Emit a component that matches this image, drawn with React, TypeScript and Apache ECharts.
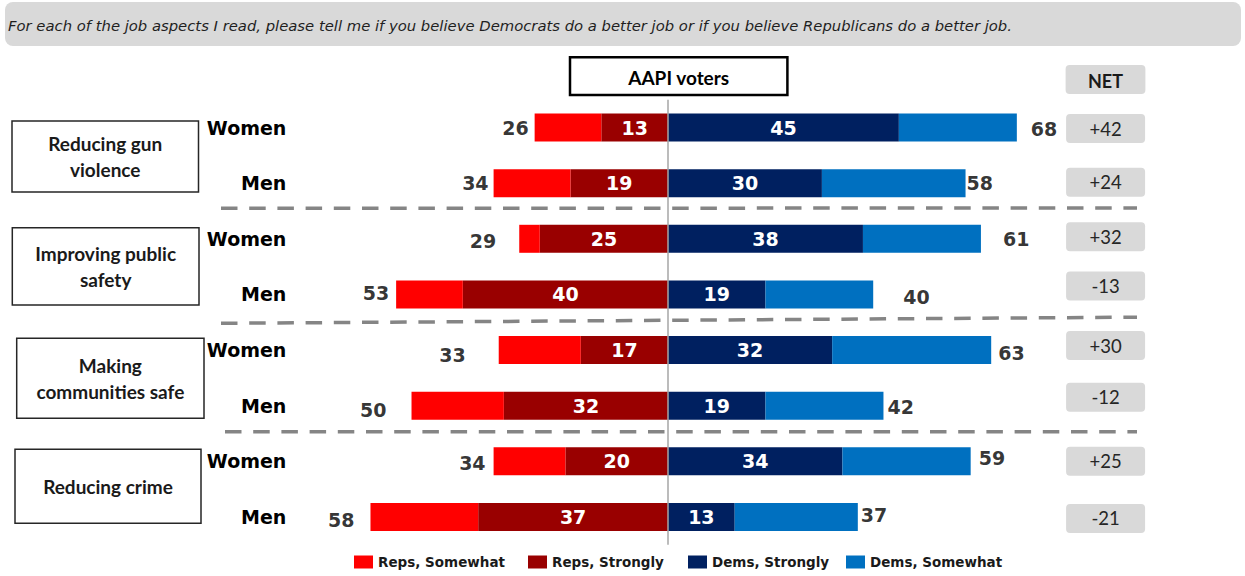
import React, { useEffect, useRef } from "react";
import * as echarts from "echarts";

// ---- data ----
const groupTitles = ["Reducing gun\nviolence", "Improving public\nsafety", "Making\ncommunities safe", "Reducing crime"];
const rowLabels = ["Women", "Men", "Women", "Men", "Women", "Men", "Women", "Men"];
const repsSomewhat = [13, 15, 4, 13, 16, 18, 14, 21];
const repsStrongly = [13, 19, 25, 40, 17, 32, 20, 37];
const demsStrongly = [45, 30, 38, 19, 32, 19, 34, 13];
const demsSomewhat = [23, 28, 23, 21, 31, 23, 25, 24];
const repsTotal = [26, 34, 29, 53, 33, 50, 34, 58];
const demsTotal = [68, 58, 61, 40, 63, 42, 59, 37];
const netValues = ["+42", "+24", "+32", "-13", "+30", "-12", "+25", "-21"];
const seriesNames = ["Reps, Somewhat", "Reps, Strongly", "Dems, Strongly", "Dems, Somewhat"];
const titleText =
  "For each of the job aspects I read, please tell me if you believe Democrats do a better job or if you believe Republicans do a better job.";
const panelTitle = "AAPI voters";
const netTitle = "NET";

// ---- layout (not data) ----
const repLabelShift = [[-6, 0], [-5, 0], [-23, 2], [-7, -1], [-33, 5], [-25, 4], [-8, 2], [-16, 3]];
const demLabelShift = [[14, 1.5], [1, 0], [22, 0], [30, 3], [7, 3], [4, 1], [8, -3], [3, -2]];
const netShiftY = [1, -1, -2, -8.5, -4.5, -8.5, 0, 1.5];
const NET_X = 85.3;
const groupBoxes = [
  { x: 12, y: 121, w: 186.5, h: 71 },
  { x: 12.3, y: 227.7, w: 186.7, h: 77.3 },
  { x: 16.7, y: 338.3, w: 187.3, h: 80 },
  { x: 15, y: 449.3, w: 186, h: 74 },
];
const dashLines = [
  [221, 208.3, 1137, 208],
  [221, 323.3, 1137, 317.2],
  [225, 431.7, 1137, 431.7],
];
const NET_SYMBOL = "path://M4,0H75A4,4 0 0 1 79,4V25A4,4 0 0 1 75,29H4A4,4 0 0 1 0,25V4A4,4 0 0 1 4,0Z";

const colors = {
  repSome: "#FF0000",
  repStrong: "#990000",
  demStrong: "#002060",
  demSome: "#0070C0",
};

const NUM_FONT = "DejaVu Sans";
const BOX_FONT = "Lato";

export default function App() {
  const ref = useRef<HTMLDivElement>(null);
  useEffect(() => {
    if (!ref.current) return;
    const chart = echarts.init(ref.current, undefined, { renderer: "svg" });
    const catIds = rowLabels.map((r, i) => `${r}#${i}`);
    const numLabel = {
      fontFamily: NUM_FONT,
      fontWeight: "bold" as const,
      fontSize: 19,
    };
    const legendLefts = [354, 528, 688, 846];
    const legends = seriesNames.map((n, i) => ({
      data: [n],
      left: legendLefts[i],
      top: 555,
      padding: 0,
      icon: "rect",
      itemWidth: 19,
      itemHeight: 13,
      selectedMode: false,
      textStyle: { fontFamily: NUM_FONT, fontWeight: "bold", fontSize: 13.5, color: "#1a1a1a" },
    }));

    const graphics: any[] = [];
    graphics.push({
      type: "rect",
      shape: { x: 5, y: 2, width: 1236, height: 44, r: 8 },
      style: { fill: "#d9d9d9" },
      silent: true,
    });
    graphics.push({
      type: "text",
      x: 8,
      y: 25,
      style: {
        text: titleText,
        font: `italic 14.8px ${NUM_FONT}`,
        fill: "#1f1f1f",
        align: "left",
        verticalAlign: "middle",
      },
      silent: true,
    });
    graphics.push({
      type: "rect",
      shape: { x: 570, y: 57.3, width: 217.4, height: 37.7 },
      style: { fill: "#fff", stroke: "#000", lineWidth: 2.5 },
      silent: true,
    });
    graphics.push({
      type: "text",
      x: 678.7,
      y: 77,
      style: { text: panelTitle, font: `bold 19px ${BOX_FONT}`, fill: "#000", align: "center", verticalAlign: "middle" },
      silent: true,
    });
    graphics.push({
      type: "rect",
      shape: { x: 1065.6, y: 65, width: 79.8, height: 29, r: 4 },
      style: { fill: "#d9d9d9" },
      silent: true,
    });
    graphics.push({
      type: "text",
      x: 1105.5,
      y: 80.5,
      style: { text: netTitle, font: `bold 18px ${BOX_FONT}`, fill: "#1a1a1a", align: "center", verticalAlign: "middle" },
      silent: true,
    });
    groupBoxes.forEach((b, i) => {
      graphics.push({
        type: "rect",
        shape: { x: b.x, y: b.y, width: b.w, height: b.h },
        style: { fill: "#fff", stroke: "#262626", lineWidth: 1.5 },
        silent: true,
      });
      graphics.push({
        type: "text",
        x: b.x + b.w / 2,
        y: b.y + b.h / 2,
        style: {
          text: groupTitles[i],
          font: `bold 19px ${BOX_FONT}`,
          lineHeight: 26,
          fill: "#1a1a1a",
          align: "center",
          verticalAlign: "middle",
        },
        silent: true,
      });
    });
    dashLines.forEach((l) => {
      graphics.push({
        type: "line",
        shape: { x1: l[0], y1: l[1], x2: l[2], y2: l[3] },
        style: { stroke: "#858585", lineWidth: 3.5, lineDash: [16.5, 11.7] },
        silent: true,
      });
    });

    chart.setOption({
      animation: false,
      legend: legends,
      grid: { left: 288.4, right: 64, top: 99.7, height: 445.1, containLabel: false },
      xAxis: { type: "value", min: -74, max: 100, show: false },
      yAxis: {
        type: "category",
        inverse: true,
        data: catIds,
        axisLine: { show: false },
        axisTick: { show: false },
        splitLine: { show: false },
        axisLabel: {
          margin: 2,
          formatter: (v: string) => v.split("#")[0],
          color: "#000",
          ...numLabel,
        },
      },
      series: [
        {
          name: seriesNames[1],
          type: "bar",
          stack: "all",
          barWidth: 28,
          data: repsStrongly.map((v) => -v),
          itemStyle: { color: colors.repStrong },
          label: {
            show: true,
            position: "inside",
            color: "#fff",
            ...numLabel,
            formatter: (p: any) => String(repsStrongly[p.dataIndex]),
          },
        },
        {
          name: seriesNames[0],
          type: "bar",
          stack: "all",
          barWidth: 28,
          data: repsSomewhat.map((v) => -v),
          itemStyle: { color: colors.repSome },
        },
        {
          name: seriesNames[2],
          type: "bar",
          stack: "all",
          barWidth: 28,
          data: demsStrongly,
          itemStyle: { color: colors.demStrong },
          label: {
            show: true,
            position: "inside",
            color: "#fff",
            ...numLabel,
            formatter: (p: any) => String(demsStrongly[p.dataIndex]),
          },
          markLine: {
            silent: true,
            symbol: ["none", "none"],
            label: { show: false },
            lineStyle: { color: "#a6a6a6", width: 1.5, type: "solid" },
            data: [{ xAxis: 0 }],
          },
        },
        {
          name: seriesNames[3],
          type: "bar",
          stack: "all",
          barWidth: 28,
          data: demsSomewhat,
          itemStyle: { color: colors.demSome },
        },
        {
          name: "repTotals",
          type: "scatter",
          symbolSize: 0,
          silent: true,
          data: repsTotal.map((v, i) => ({ value: [-v, i], label: { offset: repLabelShift[i] } })),
          label: {
            show: true,
            position: "left",
            distance: 0,
            color: "#000",
            ...numLabel,
            formatter: (p: any) => String(repsTotal[p.dataIndex]),
          },
        },
        {
          name: "demTotals",
          type: "scatter",
          symbolSize: 0,
          silent: true,
          data: demsTotal.map((v, i) => ({ value: [v, i], label: { offset: demLabelShift[i] } })),
          label: {
            show: true,
            position: "right",
            distance: 0,
            color: "#000",
            ...numLabel,
            formatter: (p: any) => String(demsTotal[p.dataIndex]),
          },
        },
        {
          name: "net",
          type: "scatter",
          symbol: NET_SYMBOL,
          symbolSize: [79, 29],
          silent: true,
          itemStyle: { color: "#d9d9d9", opacity: 1 },
          data: netValues.map((v, i) => ({
            value: [NET_X, i],
            symbolOffset: [0, netShiftY[i]],
          })),
          label: {
            show: true,
            position: "inside",
            color: "#262626",
            fontFamily: BOX_FONT,
            fontSize: 18.5,
            formatter: (p: any) => netValues[p.dataIndex],
          },
        },
      ],
      graphic: graphics,
    });
    return () => chart.dispose();
  }, []);
  return (
    <div
      ref={ref}
      style={{ position: "fixed", left: 0, top: 0, width: 1245, height: 576, background: "#fff" }}
    />
  );
}
